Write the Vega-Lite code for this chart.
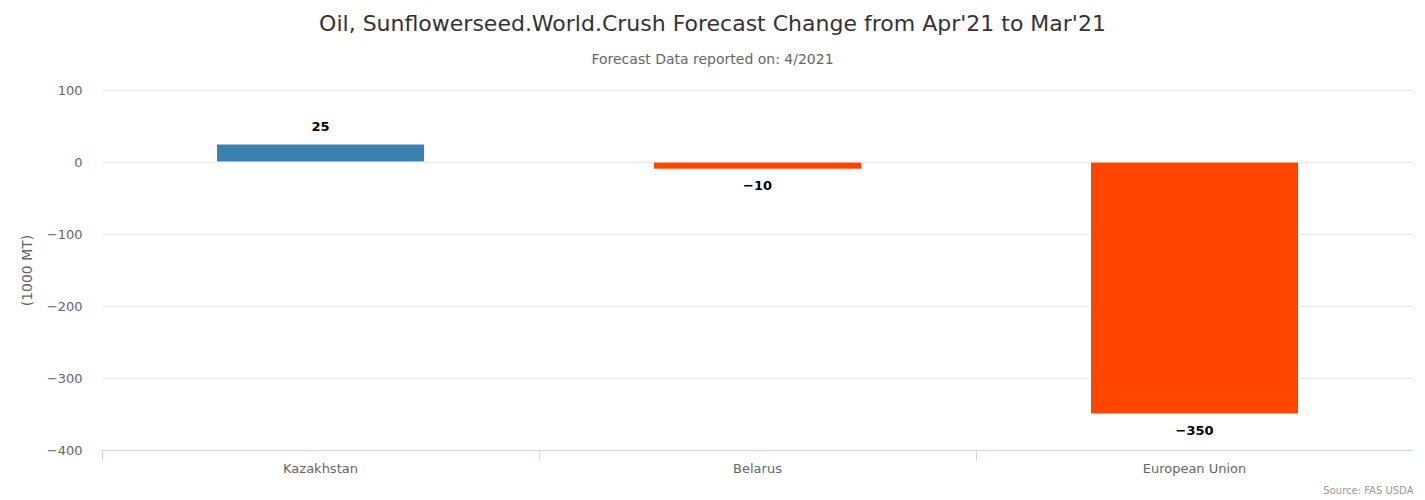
{
  "$schema": "https://vega.github.io/schema/vega-lite/v6.json",
  "width": 1311,
  "height": 360,
  "autosize": {"type": "none"},
  "padding": {"left": 102, "top": 90, "right": 12, "bottom": 50},
  "background": "white",
  "config": {
    "font": "DejaVu Sans",
    "view": {"stroke": null}
  },
  "title": {
    "text": "Oil, Sunflowerseed.World.Crush Forecast Change from Apr'21 to Mar'21",
    "subtitle": "Forecast Data reported on: 4/2021",
    "anchor": "middle",
    "dx": -45,
    "fontSize": 22,
    "fontWeight": "normal",
    "color": "#333333",
    "subtitleFontSize": 14,
    "subtitleColor": "#666666",
    "subtitlePadding": 17,
    "offset": 16,
    "font": "DejaVu Sans",
    "subtitleFont": "DejaVu Sans"
  },
  "data": {
    "values": [
      {"country": "Kazakhstan", "change": 25},
      {"country": "Belarus", "change": -10},
      {"country": "European Union", "change": -350}
    ]
  },
  "encoding": {
    "x": {
      "field": "country",
      "type": "nominal",
      "sort": null,
      "scale": {"paddingInner": 0, "paddingOuter": 0},
      "axis": {
        "title": "Source: FAS USDA",
        "titleFontSize": 10,
        "titleFontWeight": "normal",
        "titleColor": "#999999",
        "titleAnchor": "end",
        "titleAlign": "right",
        "titlePadding": 10,
        "labelAngle": 0,
        "labelFontSize": 13,
        "labelColor": "#666666",
        "labelPadding": 2,
        "domainColor": "#ccd6eb",
        "tickColor": "#ccd6eb",
        "tickSize": 10,
        "bandPosition": 0,
        "labelBound": false,
        "grid": false
      }
    },
    "y": {
      "field": "change",
      "type": "quantitative",
      "scale": {"domain": [-400, 100], "nice": false},
      "axis": {
        "title": "(1000 MT)",
        "titleFontSize": 14,
        "titleFontWeight": "normal",
        "titleColor": "#666666",
        "titlePadding": 12,
        "values": [-400, -300, -200, -100, 0, 100],
        "format": "d",
        "labelFontSize": 13,
        "labelColor": "#666666",
        "labelPadding": 20,
        "domain": false,
        "ticks": false,
        "gridColor": "#e6e6e6"
      }
    }
  },
  "layer": [
    {
      "mark": {"type": "bar", "width": {"band": 0.476}, "stroke": "white", "strokeWidth": 1},
      "encoding": {
        "color": {
          "condition": {"test": "datum.change < 0", "value": "#ff4500"},
          "value": "#3a81ab"
        }
      }
    },
    {
      "transform": [{"filter": "datum.change >= 0"}],
      "mark": {"type": "text", "baseline": "bottom", "dy": -10, "fontSize": 13, "fontWeight": "bold", "color": "#000000"},
      "encoding": {"text": {"field": "change", "type": "quantitative", "format": "d"}}
    },
    {
      "transform": [{"filter": "datum.change < 0"}],
      "mark": {"type": "text", "baseline": "top", "dy": 11, "fontSize": 13, "fontWeight": "bold", "color": "#000000"},
      "encoding": {"text": {"field": "change", "type": "quantitative", "format": "d"}}
    }
  ]
}
